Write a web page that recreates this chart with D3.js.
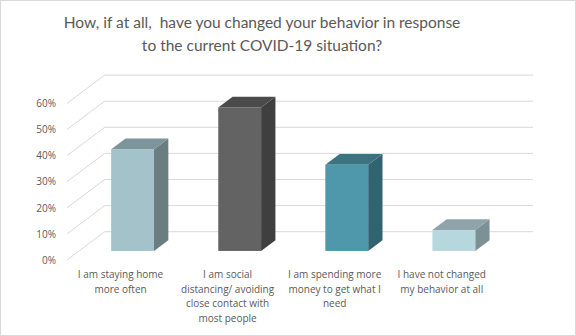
<!DOCTYPE html>
<html>
<head>
<meta charset="utf-8">
<script src="https://cdn.jsdelivr.net/npm/d3@7"></script>
<style>
  html, body { margin: 0; padding: 0; background: #fff; }
  svg { display: block; }
</style>
</head>
<body>
<svg id="chart" width="576" height="336"></svg>
<script>
// Survey responses (share of respondents)
const categories = [
  "I am staying home more often",
  "I am social distancing/ avoiding close contact with most people",
  "I am spending more money to get what I need",
  "I have not changed my behavior at all"
];
const values = [0.39, 0.55, 0.33, 0.08];
const tickValues = [0, 0.1, 0.2, 0.3, 0.4, 0.5, 0.6];
const titleLines = [
  "How, if at all,  have you changed your behavior in response",
  "to the current COVID-19 situation?"
];

// Face colours per bar: front, top, side
const faceColors = [
  { front: "#a3c2c9", top: "#7d959a", side: "#6a7d81" },
  { front: "#636363", top: "#4b4b4b", side: "#3f3f3f" },
  { front: "#4f97aa", top: "#3b7380", side: "#316370" },
  { front: "#b7d7de", top: "#8ea4a8", side: "#7c9195" }
];

const svg = d3.select("#chart");
const W = 576, H = 336;
const textColor = "#595959";
const gridColor = "#d9d9d9";

// Outer frame
svg.append("rect")
  .attr("x", 0.5).attr("y", 0.5)
  .attr("width", W - 1).attr("height", H - 1)
  .attr("fill", "#fff").attr("stroke", gridColor);

// Front plane of the plot and the oblique depth vector
const plotLeft = 67, plotRight = 495.3;
const depth = { dx: 37.7, dy: -28.3 };
const barDepthStart = 0.32, barDepthEnd = 0.70;

const x = d3.scaleBand().domain(categories).range([plotLeft, plotRight]).padding(0);
const y = d3.scaleLinear().domain([0, 0.6]).range([260, 103.4]);
const barWidth = x.bandwidth() * 0.4;

// Gridlines: diagonal on the floor edge, horizontal on the back wall
const grid = svg.append("g");
tickValues.forEach(t => {
  const fy = y(t);
  grid.append("line")
    .attr("x1", plotLeft).attr("y1", fy)
    .attr("x2", plotLeft + depth.dx).attr("y2", fy + depth.dy)
    .attr("stroke", gridColor).attr("stroke-width", 1);
  grid.append("line")
    .attr("x1", plotLeft + depth.dx).attr("y1", fy + depth.dy)
    .attr("x2", plotRight + depth.dx).attr("y2", fy + depth.dy)
    .attr("stroke", gridColor).attr("stroke-width", 1);
});

// Value axis labels
const yAxis = d3.axisLeft(y).tickValues(tickValues).tickFormat(d3.format(".0%")).tickSize(0).tickPadding(0);
const yAxisG = svg.append("g").attr("transform", `translate(${plotLeft - 11},0)`).call(yAxis);
yAxisG.select(".domain").remove();
yAxisG.selectAll("text")
  .attr("fill", textColor)
  .style("font-family", "'Open Sans', sans-serif")
  .style("font-size", "10px");

// Bars as oblique boxes
const bars = svg.append("g");
categories.forEach((c, i) => {
  const cx = x(c) + x.bandwidth() / 2 + depth.dx * barDepthStart;
  const by = y(0) + depth.dy * barDepthStart;
  const h = y(0) - y(values[i]);
  const x0 = cx - barWidth / 2, x1 = cx + barWidth / 2;
  const yt = by - h;
  const ddx = depth.dx * (barDepthEnd - barDepthStart);
  const ddy = depth.dy * (barDepthEnd - barDepthStart);
  const col = faceColors[i];
  const poly = pts => pts.map(p => p.join(",")).join(" ");
  bars.append("polygon")
    .attr("points", poly([[x1, yt], [x1 + ddx, yt + ddy], [x1 + ddx, by + ddy], [x1, by]]))
    .attr("fill", col.side);
  bars.append("polygon")
    .attr("points", poly([[x0, yt], [x1, yt], [x1 + ddx, yt + ddy], [x0 + ddx, yt + ddy]]))
    .attr("fill", col.top);
  bars.append("rect")
    .attr("x", x0).attr("y", yt)
    .attr("width", barWidth).attr("height", h)
    .attr("fill", col.front);
});

// Category labels, word-wrapped under each band
const labelFont = "'Open Sans', sans-serif";
const labels = svg.append("g");
const maxLabelWidth = 100;
categories.forEach(c => {
  const t = labels.append("text")
    .attr("x", x(c) + x.bandwidth() / 2)
    .attr("y", 278)
    .attr("text-anchor", "middle")
    .attr("fill", textColor)
    .style("font-family", labelFont)
    .style("font-size", "10px");
  const words = c.split(" ");
  let line = [];
  let tspan = t.append("tspan").attr("x", x(c) + x.bandwidth() / 2).attr("dy", 0);
  words.forEach(w => {
    line.push(w);
    tspan.text(line.join(" "));
    if (tspan.node().getComputedTextLength() > maxLabelWidth && line.length > 1) {
      line.pop();
      tspan.text(line.join(" "));
      line = [w];
      tspan = t.append("tspan").attr("x", x(c) + x.bandwidth() / 2).attr("dy", 14.7).text(w);
    }
  });
});

// Title
const title = svg.append("g");
titleLines.forEach((s, i) => {
  title.append("text")
    .attr("x", 262).attr("y", 28 + i * 22.5)
    .attr("text-anchor", "middle")
    .attr("fill", textColor)
    .style("font-family", "Lato, sans-serif")
    .style("font-size", "15.5px")
    .attr("xml:space", "preserve")
    .text(s);
});
</script>
</body>
</html>
